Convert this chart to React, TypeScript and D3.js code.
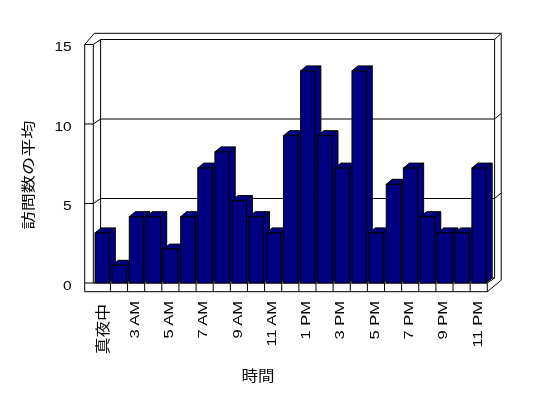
import React from 'react';
import * as d3 from 'd3';

// hours shown on the x axis (2 AM has no entry)
const hours = [
  '真夜中', '1 AM', '3 AM', '4 AM', '5 AM', '6 AM', '7 AM', '8 AM', '9 AM', '10 AM', '11 AM', '正午',
  '1 PM', '2 PM', '3 PM', '4 PM', '5 PM', '6 PM', '7 PM', '8 PM', '9 PM', '10 PM', '11 PM',
];
const avgVisits = [3, 1, 4, 4, 2, 4, 7, 8, 5, 4, 3, 9, 13, 9, 7, 13, 3, 6, 7, 4, 3, 3, 7];
const yTicks = [0, 5, 10, 15];
const gridValues = [5, 10];
const yTitle = '訪問数の平均';
const xTitle = '時間';

const W = 548;
const H = 398;
const plot = { left: 93.3, right: 487.3, bottom: 283, top: 44.5 };
const wallW = 8.6; // front face of the left wall
const floorH = 8.7; // front face of the floor
const inner = { dx: 7.3, dy: -5 }; // front plane -> back wall face
const barDepth = { dx: 6, dy: -5 };

const latin = '"Liberation Sans", Arial, sans-serif';
const cjk = '"Noto Sans CJK JP", sans-serif';

const App = () => {
  const x = d3.scaleBand<string>().domain(hours).range([plot.left, plot.right]);
  const yFront = d3.scaleLinear().domain([0, 15]).range([plot.bottom, plot.top]);
  const yBack = d3.scaleLinear().domain([0, 15]).range([plot.bottom + inner.dy, plot.top + inner.dy]);
  const yBar = d3.scaleLinear().domain([0, 15]).range([plot.bottom - 1.5, plot.top - 6]);

  const bw = x.bandwidth();
  const barW = bw * 0.835;
  const barOff = bw * 0.1;

  const backL = plot.left + inner.dx;
  const backR = plot.right + inner.dx;
  const outerTop = plot.top - 11.2;
  const outerR = backR + 6.6;
  const leftX = plot.left - wallW;
  const floorY = plot.bottom + floorH;

  const outline = [
    [leftX, floorY], [leftX, plot.top], [leftX + 9.6, outerTop], [outerR, outerTop],
    [outerR, floorY - 11.5], [plot.right, floorY],
  ];

  const labelled = hours.filter((_, i) => i % 2 === 0);

  return (
    <svg width={W} height={H} style={{ position: 'absolute', left: 0, top: 0, background: '#fff' }}>
      <g fill="none" stroke="#000" strokeWidth={1}>
        <path d={d3.line()(outline as [number, number][]) + 'Z'} fill="#fff" />
        {/* back wall face */}
        <rect x={backL} y={yBack(15)} width={backR - backL} height={yBack(0) - yBack(15)} />
        <line x1={backR} y1={yBack(15)} x2={outerR} y2={outerTop} />
        <line x1={plot.left} y1={plot.top} x2={backL} y2={yBack(15)} />
        <line x1={leftX} y1={plot.top} x2={plot.left} y2={plot.top} />
        <line x1={plot.left} y1={plot.top} x2={plot.left} y2={plot.bottom} />
        <line x1={plot.right} y1={plot.bottom} x2={backR} y2={yBack(0)} />
        {gridValues.map((v) => (
          <g key={v}>
            <line x1={backL} y1={yBack(v)} x2={backR} y2={yBack(v)} />
            <line x1={leftX} y1={yFront(v)} x2={plot.left} y2={yFront(v)} />
            <line x1={plot.left} y1={yFront(v)} x2={backL} y2={yBack(v)} />
            <line x1={backR} y1={yBack(v)} x2={outerR} y2={yBack(v) - 5.5} />
          </g>
        ))}
        {/* floor front face */}
        <line x1={leftX} y1={plot.bottom} x2={plot.right} y2={plot.bottom} />
        {hours.slice(1).map((h) => (
          <line key={h} x1={x(h)} y1={plot.bottom} x2={x(h)} y2={floorY} />
        ))}
        <line x1={plot.right} y1={plot.bottom} x2={plot.right} y2={floorY} />
      </g>

      <g fill="#000080" stroke="#000" strokeWidth={1} strokeLinejoin="miter">
        {avgVisits.map((v, i) => {
          const x0 = (x(hours[i]) as number) + barOff;
          const x1 = x0 + barW;
          const yt = yBar(v);
          const yb = plot.bottom;
          const { dx, dy } = barDepth;
          return (
            <g key={i}>
              <polygon points={`${x1},${yt} ${x1 + dx},${yt + dy} ${x1 + dx},${yb + dy} ${x1},${yb}`} />
              <polygon points={`${x0},${yt} ${x0 + dx},${yt + dy} ${x1 + dx},${yt + dy} ${x1},${yt}`} />
              <rect x={x0} y={yt} width={barW} height={yb - yt} />
            </g>
          );
        })}
      </g>

      {/* slight opacity puts the labels on their own layer: grey-scale antialiasing */}
      <g fill="#000" opacity={0.99}>
        {yTicks.map((v) => (
          <text key={v} transform={`translate(71.7,${yFront(v) + 2}) scale(1.15,1)`} textAnchor="end"
            dominantBaseline="central" fontFamily={latin} fontSize={13.5}>
            {v}
          </text>
        ))}

        {labelled.map((h) => {
          const isCjk = /[^\x00-\x7f]/.test(h);
          const cx = (x(h) as number) + bw / 2 + (isCjk ? 0 : -1.5);
          return (
            <text key={h} transform={`translate(${cx},${isCjk ? 304 : 301}) rotate(-90) scale(${isCjk ? 1.12 : 1.32},1)`}
              textAnchor="end" dominantBaseline="central" fontFamily={isCjk ? cjk : latin}
              fontSize={isCjk ? 15 : 12.5}>
              {h}
            </text>
          );
        })}

        <text transform="translate(258,374.5) scale(1.14,1)" textAnchor="middle" dominantBaseline="central"
          fontFamily={cjk} fontSize={14.5}>
          {xTitle}
        </text>
        <text transform="translate(26.7,175) rotate(-90) scale(1.3,1)" textAnchor="middle" dominantBaseline="central"
          fontFamily={cjk} fontSize={14}>
          {yTitle}
        </text>
      </g>
    </svg>
  );
};

export default App;
